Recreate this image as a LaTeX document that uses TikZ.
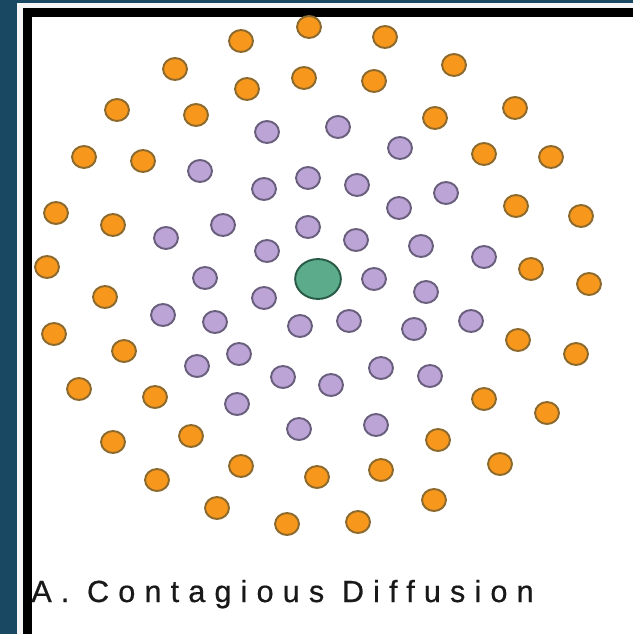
\documentclass[tikz,border=0pt]{standalone}
\usepackage{fontspec}
\usetikzlibrary{shapes.geometric}
\newfontfamily\captionfont[LetterSpace=30, FakeBold=0.6]{Liberation Sans}
\definecolor{framebg}{RGB}{24,72,98}
\definecolor{dotorange}{RGB}{247,152,29}
\definecolor{rimorange}{RGB}{140,105,45}
\definecolor{dotpurple}{RGB}{188,165,214}
\definecolor{rimpurple}{RGB}{105,95,125}
\definecolor{dotgreen}{RGB}{92,172,140}
\definecolor{rimgreen}{RGB}{40,90,70}
\begin{document}
\begin{tikzpicture}[x=0.02cm, y=-0.02cm,
    outer/.style = {ellipse, draw = rimorange, fill = dotorange, line width = 1.1pt,
                    minimum width = 13.6pt, minimum height = 12.5pt, inner sep = 0pt},
    inner/.style = {ellipse, draw = rimpurple, fill = dotpurple, line width = 1.1pt,
                    minimum width = 13.6pt, minimum height = 12.5pt, inner sep = 0pt},
    source/.style = {ellipse, draw = rimgreen, fill = dotgreen, line width = 1.1pt,
                     minimum width = 26pt, minimum height = 22.7pt, inner sep = 0pt}]
        \useasboundingbox (0, 0) rectangle (633, 634);
        % frame
        \fill[framebg] (0, 0) rectangle (633, 634);
        \fill[white!92!gray] (17, 3) rectangle (633, 634);
        \fill[black] (23, 8) rectangle (633, 634);
        \fill[white] (32, 17) rectangle (633, 634);
        % adopters far from the source
        \foreach \x/\y [count = \i] in {241/41, 309/27, 385/37, 175/69, 247/89, 304/78, 374/81, 454/65,
            117/110, 196/115, 435/118, 515/108, 84/157, 143/161, 484/154, 551/157,
            56/213, 113/225, 516/206, 581/216, 47/267, 105/297, 531/269, 589/284,
            54/334, 124/351, 518/340, 576/354, 79/389, 155/397, 484/399, 547/413,
            113/442, 191/436, 438/440, 500/464, 157/480, 241/466, 317/477, 381/470,
            434/500, 217/508, 287/524, 358/522}{
            \node[outer] (o\i) at (\x, \y) {};
        }
        % adopters near the source
        \foreach \x/\y [count = \i] in {267/132, 338/127, 200/171, 308/178, 264/189, 400/148, 357/185,
            446/193, 399/208, 223/225, 166/238, 308/227, 356/240, 421/246, 267/251, 484/257,
            205/278, 374/279, 264/298, 426/292, 163/315, 215/322, 300/326, 349/321, 414/329,
            471/321, 197/366, 239/354, 283/377, 331/385, 381/368, 430/376, 237/404,
            299/429, 376/425}{
            \node[inner] (p\i) at (\x, \y) {};
        }
        \node[source] (src) at (318, 279) {};
        \node[anchor = base west, text = black!90, inner sep = 0pt,
              font = \captionfont\fontsize{17.4}{20}\selectfont] (caption) at (31, 602)
              {A. Contagious Diffusion};
    \end{tikzpicture}
\end{document}
